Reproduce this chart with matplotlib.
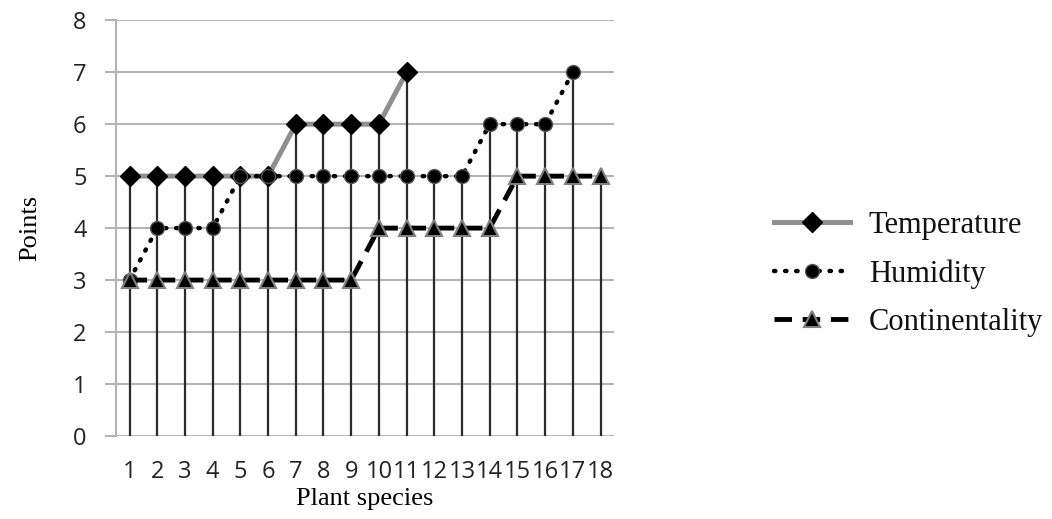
import matplotlib
matplotlib.use("Agg")
import matplotlib.pyplot as plt
import numpy as np

species = list(range(1, 19))
temperature = [5, 5, 5, 5, 5, 5, 6, 6, 6, 6, 7]
humidity = [3, 4, 4, 4, 5, 5, 5, 5, 5, 5, 5, 5, 5, 6, 6, 6, 7]
continentality = [3, 3, 3, 3, 3, 3, 3, 3, 3, 4, 4, 4, 4, 4, 5, 5, 5, 5]
yticks = list(range(0, 9))

fig = plt.figure(figsize=(10.52, 5.19), dpi=100)
ax = fig.add_axes([0.110, 0.160, 0.474, 0.801])

grid_c = "#b4b4b4"
for y in yticks:
    ax.axhline(y, color=grid_c, lw=1.5, zorder=0)

# drop lines
tops = []
for i, s in enumerate(species):
    vals = []
    for ser in (temperature, humidity, continentality):
        if i < len(ser):
            vals.append(ser[i])
    tops.append(max(vals))
ax.vlines(species, 0, tops, color="#2a2a2a", lw=1.6, zorder=1)

ax.plot(species[:len(temperature)], temperature, color="#8f8f8f", lw=3.6,
        marker="D", markersize=10, markerfacecolor="black", markeredgecolor="black",
        zorder=2, label="Temperature")
ax.plot(species[:len(humidity)], humidity, color="black", lw=3.2,
        linestyle=(0, (0.3, 2.2)), dash_capstyle="round",
        marker="o", markersize=10, markerfacecolor="black", markeredgecolor="#555555",
        zorder=3, label="Humidity")
ax.plot(species[:len(continentality)], continentality, color="black", lw=3.5,
        linestyle=(0, (3.6, 2.2)),
        marker="^", markersize=11, markerfacecolor="black", markeredgecolor="#808080",
        markeredgewidth=1.5, zorder=4, label="Continentality")

ax.set_xlim(0.5, 18.5)
ax.set_ylim(0, 8)
ax.set_yticks(yticks)
ax.set_xticks(species)
ax.set_xticklabels([str(s) for s in species])
for sp in ("top", "right", "bottom"):
    ax.spines[sp].set_visible(False)
ax.spines["left"].set_color(grid_c)
ax.spines["left"].set_linewidth(1.5)
ax.tick_params(axis="y", length=8, width=1.5, color=grid_c, pad=13,
               labelsize=17, labelcolor="#222222")
ax.tick_params(axis="x", length=0, pad=17, labelsize=17, labelcolor="#222222")
for lab in ax.get_xticklabels() + ax.get_yticklabels():
    lab.set_family("Open Sans")

ax.set_ylabel("Points", family="Liberation Serif", fontsize=19)
ax.set_xlabel("Plant species", family="Liberation Serif", fontsize=19, labelpad=3)
ax.yaxis.set_label_coords(-0.15, 0.5)

leg = ax.legend(loc="center left", bbox_to_anchor=(1.265, 0.39), frameon=False,
                prop={"family": "Liberation Serif", "size": 22},
                handlelength=2.5, labelspacing=0.62, handletextpad=0.6)
for t in leg.get_texts():
    t.set_color("#111111")

fig.savefig("out.png", dpi=100)
